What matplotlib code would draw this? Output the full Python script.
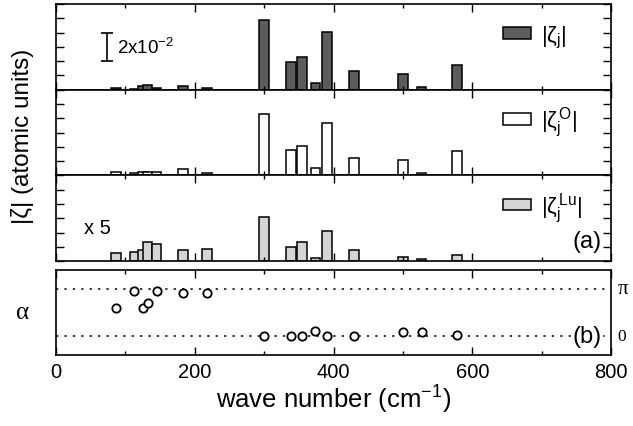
import numpy as np
import matplotlib as mpl
mpl.use('Agg')
import matplotlib.pyplot as plt
from matplotlib.ticker import MultipleLocator

plt.rcParams['font.family'] = ['Liberation Sans', 'DejaVu Sans']
plt.rcParams['mathtext.fontset'] = 'custom'
plt.rcParams['mathtext.rm'] = 'Liberation Sans'
plt.rcParams['mathtext.it'] = 'Liberation Sans:italic'

# mode frequencies (cm^-1)
freq = [86, 113, 125, 132, 145, 183, 218, 300, 339, 355, 374, 391, 430, 500, 527, 578]

# amplitudes in units of 1e-2 atomic units
zeta_tot = [0.14, 0.05, 0.24, 0.31, 0.14, 0.24, 0.10, 4.88, 1.96, 2.27, 0.49, 4.06, 1.33, 1.08, 0.19, 1.73]
zeta_O   = [0.23, 0.18, 0.25, 0.25, 0.25, 0.42, 0.18, 4.29, 1.79, 2.03, 0.51, 3.68, 1.21, 1.09, 0.16, 1.68]
zeta_Lu5 = [0.59, 0.63, 0.77, 1.36, 1.17, 0.77, 0.87, 3.10, 0.98, 1.36, 0.21, 2.13, 0.77, 0.31, 0.17, 0.42]

# phase alpha in units of pi
alpha = [0.60, 0.96, 0.60, 0.71, 0.96, 0.91, 0.91, 0.0, 0.0, 0.0, 0.10, 0.0, 0.0, 0.08, 0.08, 0.02]

bar_w = 14
fig = plt.figure(figsize=(6.33, 4.27), dpi=100)

left, width = 0.0885, 0.8768
h = 0.2007
ax1 = fig.add_axes([left, 0.7876, width, h])
ax2 = fig.add_axes([left, 0.5869, width, h])
ax3 = fig.add_axes([left, 0.3862, width, h])
ax4 = fig.add_axes([left, 0.1663, width, 0.1997])

panels = [(ax1, zeta_tot, '#5c5c5c', r'|ζ$_\mathrm{j}$|'),
          (ax2, zeta_O, 'white', r'|ζ$_\mathrm{j}^{\,\mathrm{O}}$|'),
          (ax3, zeta_Lu5, '#d4d4d4', r'|ζ$_\mathrm{j}^{\,\mathrm{Lu}}$|')]

for ax, vals, col, lab in panels:
    for f, v in zip(freq, vals):
        ax.bar(f, v, width=bar_w, color=col, edgecolor='black', linewidth=1.1,
               label=lab if f == freq[0] else None)
    ax.set_xlim(0, 800)
    ax.set_ylim(0, 6)
    ax.yaxis.set_major_locator(MultipleLocator(1))
    ax.xaxis.set_major_locator(MultipleLocator(200))
    ax.xaxis.set_minor_locator(MultipleLocator(100))
    ax.tick_params(which='both', direction='in', top=True, right=True,
                   labelbottom=False, labelleft=False, width=1.0)
    ax.tick_params(which='major', length=6)
    ax.tick_params(which='minor', length=3)
    for s in ax.spines.values():
        s.set_linewidth(1.2)
    ax.legend(loc='center left', bbox_to_anchor=(0.805, 0.62), frameon=False,
              fontsize=16, handlelength=1.25, handleheight=0.4, handletextpad=0.45,
              borderpad=0, borderaxespad=0)

# scale bar
ax1.errorbar([73], [3], yerr=[1], fmt='none', ecolor='black', elinewidth=1.2,
             capsize=4, capthick=1.2)
ax1.text(88, 3, r'2x10$^{-2}$', fontsize=13.5, va='center', ha='left')

ax3.text(40, 2.35, 'x 5', fontsize=14.5, va='center', ha='left')
ax3.text(787, 1.4, '(a)', fontsize=17, va='center', ha='right')

# phase panel
ax4.axhline(np.pi, color='black', linestyle=(0, (1.5, 4)), linewidth=1.1)
ax4.axhline(0, color='black', linestyle=(0, (1.5, 4)), linewidth=1.1)
ax4.plot(freq, np.array(alpha) * np.pi, 'o', markersize=6, markerfacecolor='white',
         markeredgecolor='black', markeredgewidth=1.3, linestyle='none')
ax4.set_xlim(0, 800)
ax4.set_ylim(-0.404 * np.pi, 1.41 * np.pi)
ax4.set_yticks([])
ax4.xaxis.set_major_locator(MultipleLocator(200))
ax4.xaxis.set_minor_locator(MultipleLocator(100))
ax4.tick_params(which='both', direction='in', top=True, width=1.0, labelsize=14.5, pad=5)
ax4.tick_params(which='major', length=6)
ax4.tick_params(which='minor', length=3)
for s in ax4.spines.values():
    s.set_linewidth(1.2)
ax4.text(787, 0, '(b)', fontsize=17, va='center', ha='right',
         bbox=dict(facecolor='white', edgecolor='none', pad=0.5))
trans = ax4.get_yaxis_transform()
ax4.text(1.012, np.pi, 'π', transform=trans, fontsize=15, va='center', ha='left',
         family='Liberation Serif')
ax4.text(1.012, 0, '0', transform=trans, fontsize=12.5, va='center', ha='left',
         family='Liberation Serif')
ax4.set_xlabel(r'wave number (cm$^{-1}$)', fontsize=18.5, labelpad=1)

fig.text(0.035, 0.68, '|ζ| (atomic units)', rotation=90, fontsize=17.5,
         va='center', ha='center')
fig.text(0.035, 0.268, 'α', fontsize=18, va='center', ha='center',
         family='Liberation Serif')

fig.savefig('out.png', dpi=100)
